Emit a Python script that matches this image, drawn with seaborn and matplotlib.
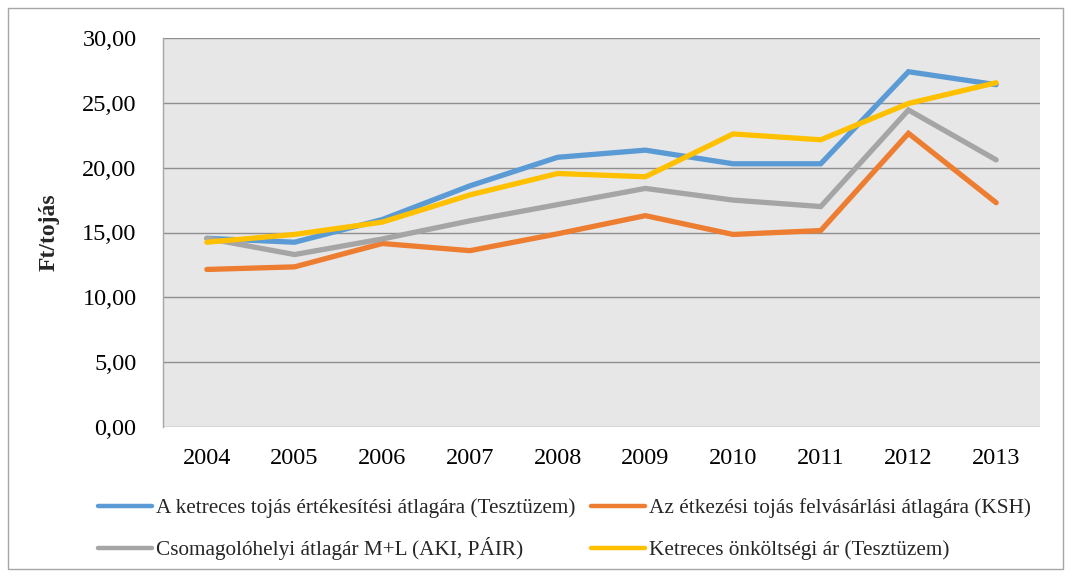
import matplotlib
matplotlib.use("Agg")
import matplotlib.pyplot as plt
import matplotlib.patches as mpatches
from matplotlib.ticker import FuncFormatter, MultipleLocator
import seaborn as sns
import pandas as pd

years = [2004, 2005, 2006, 2007, 2008, 2009, 2010, 2011, 2012, 2013]
series_names = [
    "A ketreces tojás értékesítési átlagára (Tesztüzem)",
    "Az étkezési tojás felvásárlási átlagára (KSH)",
    "Csomagolóhelyi átlagár M+L (AKI, PÁIR)",
    "Ketreces önköltségi ár (Tesztüzem)",
]
ertekesitesi = [14.55, 14.25, 16.00, 18.60, 20.80, 21.35, 20.30, 20.30, 27.40, 26.40]
felvasarlasi = [12.15, 12.35, 14.15, 13.60, 14.90, 16.30, 14.85, 15.15, 22.65, 17.30]
csomagolohelyi = [14.55, 13.30, 14.50, 15.90, 17.15, 18.40, 17.50, 17.00, 24.45, 20.60]
onkoltseg = [14.25, 14.85, 15.80, 17.90, 19.55, 19.30, 22.60, 22.15, 24.95, 26.55]
colors = ["#5B9BD5", "#ED7D31", "#A5A5A5", "#FFC000"]

rows = []
for name, vals in zip(series_names, [ertekesitesi, felvasarlasi, csomagolohelyi, onkoltseg]):
    for y, v in zip(years, vals):
        rows.append({"Év": y, "Ár": v, "Sorozat": name})
df = pd.DataFrame(rows)

sns.set_theme(style="white")
plt.rcParams["font.family"] = ["Liberation Serif", "DejaVu Serif"]

W, H = 1071, 577
fig = plt.figure(figsize=(W / 100, H / 100), dpi=100)
ax = fig.add_axes([163 / W, 1 - 427 / H, (1040 - 163) / W, (427 - 38) / H])
ax.set_facecolor("#E7E7E7")

sns.lineplot(data=df, x="Év", y="Ár", hue="Sorozat", hue_order=series_names,
             palette=colors, linewidth=3.8, ax=ax, legend=False,
             solid_capstyle="round", solid_joinstyle="miter")

ax.set_xlim(years[0] - 0.5, years[-1] + 0.5)
ax.set_ylim(0, 30)
ax.yaxis.set_major_locator(MultipleLocator(5))
ax.yaxis.set_major_formatter(FuncFormatter(lambda v, p: f"{v:.2f}".replace(".", ",")))
ax.set_xticks(years)
ax.set_xticklabels([str(y) for y in years])
ax.grid(axis="y", color="#8F8F8F", linewidth=1.0)
ax.grid(axis="x", visible=False)
ax.set_axisbelow(True)
for side in ["top", "right", "bottom"]:
    ax.spines[side].set_visible(False)
ax.spines["left"].set_color("#A6A6A6")
ax.spines["left"].set_linewidth(1.0)
ax.tick_params(axis="both", length=0, labelsize=17.5, colors="black")
ax.tick_params(axis="y", pad=19)
ax.tick_params(axis="x", pad=15)
ax.set_xlabel("")
ax.set_ylabel("Ft/tojás", fontsize=17, fontweight="bold", labelpad=16.5)

# one legend entry per slot so both columns share the same baselines
slots = [(98, 518), (591, 518), (98, 560), (591, 560)]
for (px, py), name, color in zip(slots, series_names, colors):
    handle = plt.Line2D([], [], color=color, linewidth=3.2, solid_capstyle="round")
    fig.legend([handle], [name], loc="lower left", bbox_to_anchor=(px / W, 1 - py / H),
               frameon=False, fontsize=15.3, handlelength=2.55, handletextpad=0.18,
               borderpad=0, borderaxespad=0)

fig.patches.append(mpatches.Rectangle((8 / W, 1 - 569 / H), 1055 / W, 561 / H,
                                      transform=fig.transFigure, fill=False,
                                      edgecolor="#A6A6A6", linewidth=1.0))

fig.savefig("out.png", dpi=100)
